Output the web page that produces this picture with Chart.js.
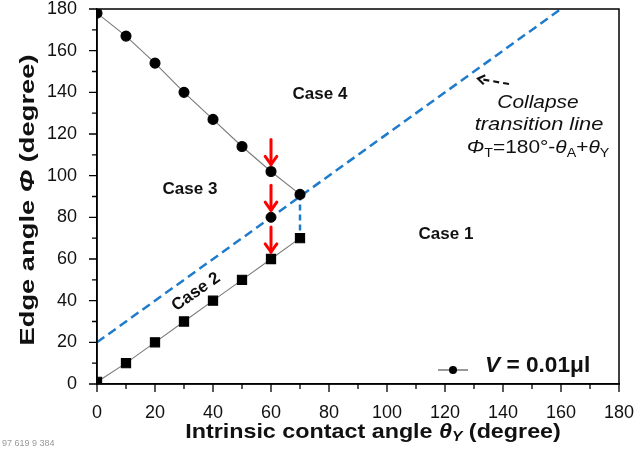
<!DOCTYPE html>
<html>
<head>
<meta charset="utf-8">
<script src="https://cdn.jsdelivr.net/npm/chart.js@4/dist/chart.umd.min.js"></script>
<style>
  html, body { margin: 0; padding: 0; background: #fff; }
  #wrap { width: 639px; height: 450px; }
</style>
</head>
<body>
<div id="wrap"><canvas id="c" width="639" height="450"></canvas></div>
<script>
// Intrinsic contact angle θY (degree) for each measured droplet
const thetaY = [0, 10, 20, 30, 40, 50, 60, 70];
// Edge angle Φ on the upper branch (circles)
const phiCircle = [178, 167, 154, 140, 127, 114, 102, 91];
// Edge angle Φ on the lower branch (squares)
const phiSquare = [1, 10, 20, 30, 40, 50, 60, 70];
// Single point where the upper branch meets the transition line
const crossX = [60];
const crossY = [80];
// Collapse transition line ΦT = 180° - θA + θY (θA = 160°)
const transX = [0, 160];
const transY = [20, 180];
// Vertical drop at θY = 70°
const dropX = [70, 70];
const dropY = [91, 70];
// Red arrows point at these (θY, Φ) marks
const arrowX = [60, 60, 60];
const arrowY = [102, 80, 60];
// Axis tick values
const majorTicks = [0, 20, 40, 60, 80, 100, 120, 140, 160, 180];
const minorTicks = [10, 30, 50, 70, 90, 110, 130, 150, 170];

const FONT = '"Liberation Sans", Arial, Helvetica, sans-serif';
const BLUE = '#1f7bcc';

const pts = (xs, ys) => xs.map((x, i) => ({ x: x, y: ys[i] }));

// Draws a row of differently styled text pieces; sx stretches it horizontally.
function drawRuns(ctx, parts, x, y, align, sx) {
  sx = sx || 1;
  let w = 0;
  parts.forEach(p => { ctx.font = p.f; p.w = ctx.measureText(p.t).width; w += p.w; });
  ctx.save();
  ctx.translate(x, y);
  ctx.scale(sx, 1);
  let cx = align === 'center' ? -w / 2 : 0;
  parts.forEach(p => {
    ctx.font = p.f;
    ctx.fillText(p.t, cx, p.dy || 0);
    cx += p.w;
  });
  ctx.restore();
}

function arrowHead(ctx, x1, y1, x2, y2, len, spread) {
  const a = Math.atan2(y2 - y1, x2 - x1);
  ctx.beginPath();
  ctx.moveTo(x2 - len * Math.cos(a - spread), y2 - len * Math.sin(a - spread));
  ctx.lineTo(x2, y2);
  ctx.lineTo(x2 - len * Math.cos(a + spread), y2 - len * Math.sin(a + spread));
  ctx.stroke();
}

const decor = {
  id: 'decor',
  afterDraw(chart) {
    const ctx = chart.ctx;
    const xs = chart.scales.x, ys = chart.scales.y;
    ctx.save();

    // red arrows above the marked points
    ctx.strokeStyle = '#ff0000';
    ctx.lineWidth = 3;
    ctx.lineCap = 'round';
    arrowX.forEach((v, i) => {
      const px = xs.getPixelForValue(v);
      const py = ys.getPixelForValue(arrowY[i]);
      const tip = py - 7, tail = py - 32;
      ctx.beginPath();
      ctx.moveTo(px, tail); ctx.lineTo(px, tip);
      ctx.stroke();
      arrowHead(ctx, px, tail, px, tip, 10, 0.62);
    });

    // dashed black pointer to the transition line
    ctx.strokeStyle = '#111';
    ctx.lineWidth = 2.2;
    ctx.lineCap = 'butt';
    ctx.setLineDash([6, 4]);
    ctx.beginPath();
    ctx.moveTo(509, 84); ctx.lineTo(480, 79);
    ctx.stroke();
    ctx.setLineDash([]);
    arrowHead(ctx, 509, 84, 478, 78.7, 8, 0.6);

    ctx.fillStyle = '#111';
    ctx.textBaseline = 'middle';
    ctx.textAlign = 'left';

    // region labels
    const bold17 = 'bold 17px ' + FONT;
    drawRuns(ctx, [{ t: 'Case 4', f: bold17 }], 320, 94, 'center');
    drawRuns(ctx, [{ t: 'Case 3', f: bold17 }], 190, 189, 'center');
    drawRuns(ctx, [{ t: 'Case 1', f: bold17 }], 446, 234, 'center');
    ctx.save();
    ctx.translate(196, 292);
    ctx.rotate(-35 * Math.PI / 180);
    drawRuns(ctx, [{ t: 'Case 2', f: bold17 }], 0, 0, 'center');
    ctx.restore();

    // transition line annotation
    const it19 = 'italic 19px ' + FONT;
    drawRuns(ctx, [{ t: 'Collapse', f: it19 }], 538, 103, 'center', 1.1);
    drawRuns(ctx, [{ t: 'transition line', f: it19 }], 539, 125, 'center', 1.15);
    const r18 = '19px ' + FONT, i18 = 'italic 19px ' + FONT, s12 = '13px ' + FONT;
    drawRuns(ctx, [
      { t: 'Φ', f: i18 }, { t: 'T', f: s12, dy: 5 },
      { t: '=180°-', f: r18 },
      { t: 'θ', f: i18 }, { t: 'A', f: s12, dy: 5 },
      { t: '+', f: r18 },
      { t: 'θ', f: i18 }, { t: 'Y', f: s12, dy: 5 }
    ], 538, 148, 'center', 1.1);

    // legend
    ctx.strokeStyle = '#555';
    ctx.lineWidth = 1.2;
    ctx.beginPath();
    ctx.moveTo(438, 370); ctx.lineTo(468, 370);
    ctx.stroke();
    ctx.fillStyle = '#000';
    ctx.beginPath();
    ctx.arc(453, 370, 4, 0, Math.PI * 2);
    ctx.fill();
    ctx.fillStyle = '#111';
    drawRuns(ctx, [
      { t: 'V', f: 'italic bold 22px ' + FONT },
      { t: ' = 0.01μl', f: 'bold 22px ' + FONT }
    ], 485, 366, 'left', 1.03);

    // axis titles
    const b21 = 'bold 21px ' + FONT, bi21 = 'italic bold 21px ' + FONT;
    drawRuns(ctx, [
      { t: 'Intrinsic contact angle ', f: b21 },
      { t: 'θ', f: bi21 },
      { t: 'Y', f: 'italic bold 14px ' + FONT, dy: 5 },
      { t: ' (degree)', f: b21 }
    ], 373, 432, 'center', 1.11);
    ctx.save();
    ctx.translate(28, 200);
    ctx.rotate(-Math.PI / 2);
    drawRuns(ctx, [
      { t: 'Edge angle ', f: b21 },
      { t: 'Φ', f: bi21 },
      { t: ' (degree)', f: b21 }
    ], 0, 0, 'center', 1.3);
    ctx.restore();
    ctx.restore();

    // plot box and tick marks, drawn last
    const L = xs.getPixelForValue(0), R = xs.getPixelForValue(180);
    const T = ys.getPixelForValue(180), B = ys.getPixelForValue(0);
    ctx.save();
    ctx.setLineDash([]);
    ctx.strokeStyle = '#000';
    ctx.lineWidth = 1.5;
    ctx.strokeRect(L, T, R - L, B - T);
    ctx.lineWidth = 1.3;
    ctx.beginPath();
    majorTicks.forEach(v => {
      const px = xs.getPixelForValue(v);
      ctx.moveTo(px, B); ctx.lineTo(px, B + 8);
      const py = ys.getPixelForValue(v);
      ctx.moveTo(L, py); ctx.lineTo(L - 8, py);
    });
    minorTicks.forEach(v => {
      const px = xs.getPixelForValue(v);
      ctx.moveTo(px, B); ctx.lineTo(px, B + 5);
      const py = ys.getPixelForValue(v);
      ctx.moveTo(L, py); ctx.lineTo(L - 5, py);
    });
    ctx.stroke();
    ctx.fillStyle = '#999';
    ctx.font = '9px sans-serif';
    ctx.textBaseline = 'alphabetic';
    ctx.fillText([L, R, T, B].map(n => Math.round(n)).join(' '), 2, 446);
    ctx.restore();
  }
};

const tickFont = { family: FONT, size: 18, lineHeight: 1.0 };

new Chart(document.getElementById('c'), {
  type: 'scatter',
  data: {
    datasets: [
      {
        label: 'marked',
        data: pts(crossX, crossY),
        showLine: false,
        pointStyle: 'circle', pointRadius: 5,
        pointBackgroundColor: '#000', pointBorderColor: '#000',
        order: 0
      },
      {
        label: 'upper',
        data: pts(thetaY, phiCircle),
        showLine: true,
        borderColor: '#7a7a7a', borderWidth: 1.1,
        pointStyle: 'circle', pointRadius: 5,
        pointBackgroundColor: '#000', pointBorderColor: '#000',
        order: 1
      },
      {
        label: 'lower',
        data: pts(thetaY, phiSquare),
        showLine: true,
        borderColor: '#7a7a7a', borderWidth: 1.1,
        pointStyle: 'rect', pointRadius: 6.5,
        pointBackgroundColor: '#000', pointBorderColor: '#000',
        order: 2
      },
      {
        label: 'transition',
        data: pts(transX, transY),
        showLine: true,
        borderColor: BLUE, borderWidth: 2.5, borderDash: [9, 5],
        pointRadius: 0,
        order: 3
      },
      {
        label: 'drop',
        data: pts(dropX, dropY),
        showLine: true,
        borderColor: BLUE, borderWidth: 2.5, borderDash: [6, 4],
        pointRadius: 0,
        order: 4
      }
    ]
  },
  options: {
    responsive: false,
    animation: false,
    layout: { padding: { top: 9, right: 20, left: 0, bottom: 0 } },
    plugins: { legend: { display: false }, tooltip: { enabled: false } },
    scales: {
      x: {
        type: 'linear', min: 0, max: 180,
        ticks: {
          stepSize: 10, autoSkip: false, maxRotation: 0,
          callback: v => (v % 20 === 0 ? String(v) : ''),
          font: tickFont, color: '#111', padding: 12
        },
        grid: { display: false },
        border: { display: true, color: '#000', width: 1.5 },
        afterFit: s => { s.height = 66; s.paddingLeft = 0; s.paddingRight = 0; }
      },
      y: {
        type: 'linear', min: 0, max: 180,
        ticks: {
          stepSize: 10, autoSkip: false,
          callback: v => (v % 20 === 0 ? String(v) : ''),
          font: tickFont, color: '#111', padding: 12
        },
        grid: { display: false },
        border: { display: true, color: '#000', width: 1.5 },
        afterFit: s => { s.width = 97; s.paddingTop = 0; s.paddingBottom = 0; }
      }
    }
  },
  plugins: [decor]
});
</script>
</body>
</html>
